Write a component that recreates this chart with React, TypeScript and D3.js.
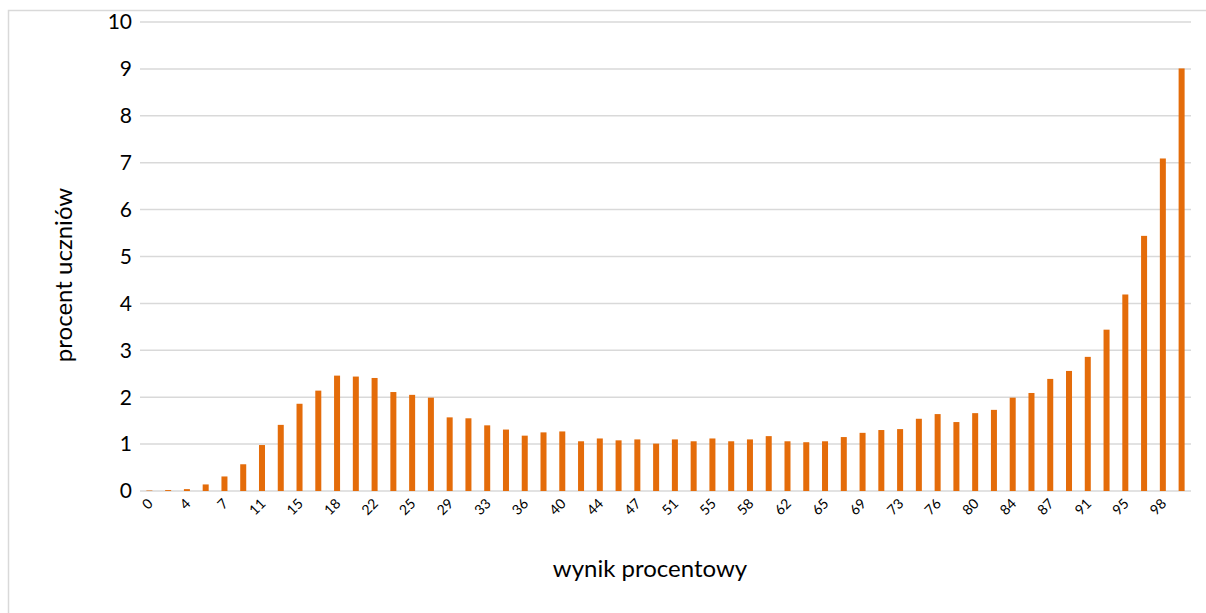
import React from 'react';
import * as d3 from 'd3';

// wynik procentowy (score in %) for each bar
const categories = [
  '0', '2', '4', '5', '7', '9', '11', '13', '15', '16', '18', '20', '22', '24', '25', '27',
  '29', '31', '33', '35', '36', '38', '40', '42', '44', '45', '47', '49', '51', '53', '55', '56',
  '58', '60', '62', '64', '65', '67', '69', '71', '73', '75', '76', '78', '80', '82', '84', '85',
  '87', '89', '91', '93', '95', '96', '98', '100',
];

// procent uczniów
const values = [
  0.01, 0.02, 0.04, 0.14, 0.31, 0.57, 0.98, 1.41, 1.86, 2.14, 2.46, 2.44, 2.41, 2.11, 2.05, 1.99,
  1.57, 1.55, 1.4, 1.31, 1.18, 1.25, 1.27, 1.06, 1.12, 1.08, 1.1, 1.01, 1.1, 1.06, 1.12, 1.06,
  1.1, 1.17, 1.06, 1.04, 1.06, 1.15, 1.24, 1.3, 1.32, 1.54, 1.64, 1.47, 1.66, 1.73, 1.99, 2.09,
  2.39, 2.56, 2.86, 3.44, 4.19, 5.44, 7.09, 9.01,
];

const yTicks = [0, 1, 2, 3, 4, 5, 6, 7, 8, 9, 10];

const W = 1206;
const H = 613;
const margin = { top: 22, right: 15, bottom: 122, left: 140 };
const font = 'Lato, "Open Sans", sans-serif';

export default function App() {
  const innerW = W - margin.left - margin.right;
  const innerH = 491 - margin.top;

  const x = d3.scaleBand<string>()
    .domain(categories)
    .range([0, innerW])
    .paddingInner(0.68)
    .paddingOuter(0.34);

  const y = d3.scaleLinear().domain([0, 10]).range([innerH, 0]);

  return (
    <svg
      width={W}
      height={H}
      style={{ position: 'absolute', left: 0, top: 0, background: '#fff', fontFamily: font }}
    >
      {/* chart frame, runs off the right and bottom of the page */}
      <rect x={8.5} y={10.5} width={1300} height={700} fill="#fff" stroke="#d9d9d9" strokeWidth={1.5} />

      <g transform={`translate(${margin.left},${margin.top})`}>
        {/* gridlines */}
        {yTicks.map(t => (
          <line key={t} x1={0} x2={innerW} y1={y(t)} y2={y(t)} stroke="#d9d9d9" strokeWidth={1.5} />
        ))}

        {/* y tick labels */}
        {yTicks.map(t => (
          <text key={t} x={-8} y={y(t)} dy="0.35em" textAnchor="end" fontSize={21} fill="#000">
            {t}
          </text>
        ))}

        {/* bars */}
        {values.map((v, i) => (
          <rect
            key={i}
            x={x(categories[i])}
            y={y(v)}
            width={x.bandwidth()}
            height={innerH - y(v)}
            fill="#E46C0A"
          />
        ))}

        {/* x tick labels, every second category */}
        {categories.map((c, i) => {
          if (i % 2 !== 0) return null;
          const cx = (x(c) ?? 0) + x.bandwidth() / 2 + 1;
          return (
            <text
              key={c}
              transform={`translate(${cx},${innerH + 10}) rotate(-45)`}
              textAnchor="end"
              dy="0.35em"
              fontSize={14}
              fill="#000"
            >
              {c}
            </text>
          );
        })}
      </g>

      <text
        transform={`translate(72,275) rotate(-90)`}
        textAnchor="middle"
        fontSize={24}
        fill="#000"
      >
        procent uczniów
      </text>
      <text x={650} y={577} textAnchor="middle" fontSize={24} fill="#000">
        wynik procentowy
      </text>
    </svg>
  );
}
